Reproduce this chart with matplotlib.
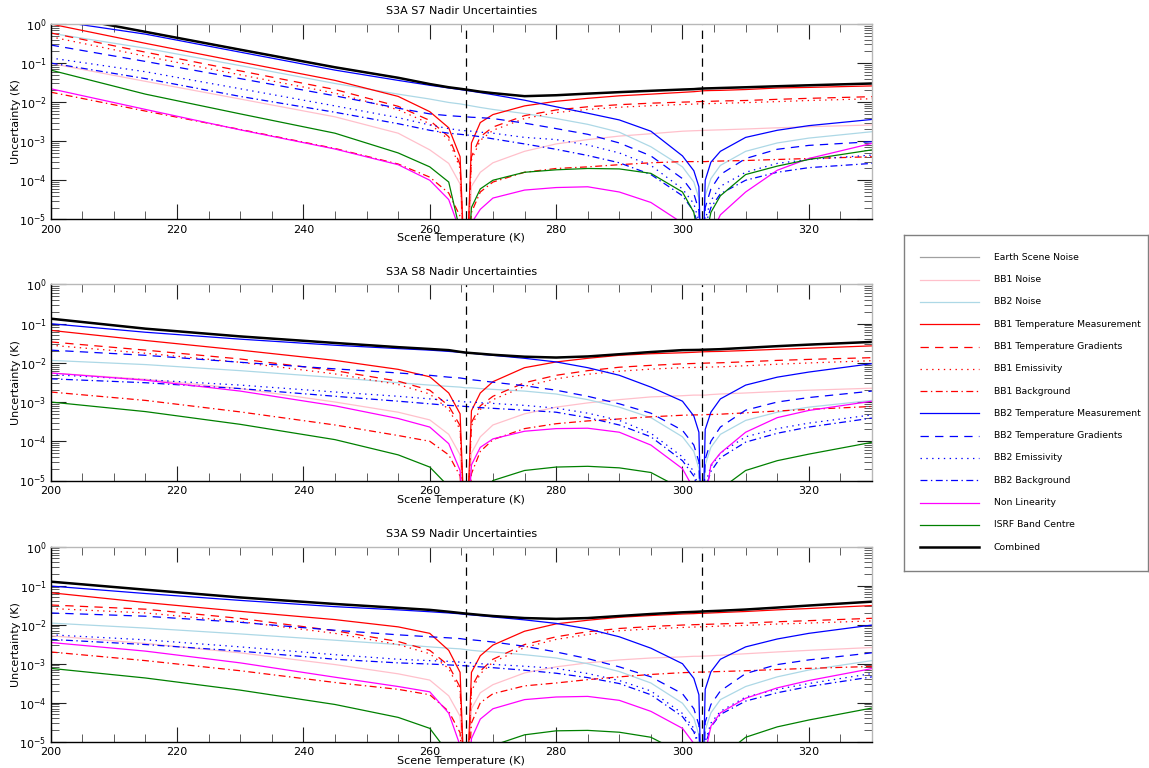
import matplotlib
matplotlib.use("Agg")
import matplotlib.pyplot as plt
from matplotlib.ticker import LogLocator, MultipleLocator, NullFormatter
from matplotlib.lines import Line2D

plt.rcParams['font.family'] = ['DejaVu Sans']
plt.rcParams['lines.scale_dashes'] = False

# ---------------- data ----------------
temps = [200, 215, 230, 245, 255, 260, 263, 264.8, 265.7, 266.6, 268, 270, 275, 280, 285, 290,
         295, 300, 301.8, 302.6, 303.1, 303.6, 304.5, 306, 310, 315, 320, 330]

BB1_TEMP = 265.7
BB2_TEMP = 303.1

labels = ["Earth Scene Noise", "BB1 Noise", "BB2 Noise", "BB1 Temperature Measurement",
          "BB1 Temperature Gradients", "BB1 Emissivity", "BB1 Background",
          "BB2 Temperature Measurement", "BB2 Temperature Gradients", "BB2 Emissivity",
          "BB2 Background", "Non Linearity", "ISRF Band Centre", "Combined"]

titles = ["S3A S7 Nadir Uncertainties", "S3A S8 Nadir Uncertainties", "S3A S9 Nadir Uncertainties"]

# ---- S7 ----
s7_combined = [1.8, 0.63, 0.22, 0.078, 0.042, 0.029, 0.024, 0.022, 0.021, 0.020, 0.0185, 0.017, 0.0142, 0.015,
               0.0165, 0.018, 0.0195, 0.021, 0.0215, 0.022, 0.0222, 0.0224, 0.0226, 0.023, 0.024, 0.0255, 0.027, 0.030]
s7_earth_noise = s7_combined
s7_bb1_noise = [0.098, 0.034, 0.012, 0.0042, 0.0016, 6e-4, 2.7e-4, 8e-5, 1e-7, 7e-5, 1.6e-4, 2.8e-4, 5.5e-4, 8.5e-4,
                1.1e-3, 1.35e-3, 1.55e-3, 1.8e-3, 1.85e-3, 1.87e-3, 1.88e-3, 1.9e-3, 1.92e-3, 1.95e-3, 2.05e-3, 2.2e-3, 2.35e-3, 2.6e-3]
s7_bb2_noise = [0.58, 0.24, 0.086, 0.030, 0.016, 0.012, 0.0098, 0.009, 0.0085, 0.008, 0.0073, 0.0065, 0.0051, 0.0038,
                0.0027, 0.0017, 7.2e-4, 2.2e-4, 9e-5, 3.5e-5, 1e-7, 4e-5, 1.1e-4, 2.4e-4, 5.5e-4, 9e-4, 1.2e-3, 1.75e-3]
s7_bb1_tm = [1.0, 0.32, 0.107, 0.036, 0.014, 0.0057, 0.0022, 4e-4, 1e-7, 9e-4, 3e-3, 4.8e-3, 8e-3, 0.0105,
             0.0125, 0.0145, 0.016, 0.0178, 0.0185, 0.019, 0.0194, 0.0196, 0.0198, 0.020, 0.021, 0.023, 0.0238, 0.026]
s7_bb1_tg = [0.59, 0.19, 0.063, 0.021, 0.0078, 0.0034, 0.0013, 2.5e-4, 1e-7, 4e-4, 1.3e-3, 2.3e-3, 4.5e-3, 6.3e-3,
             7.6e-3, 8.6e-3, 9.4e-3, 0.0100, 0.0102, 0.0103, 0.0104, 0.0104, 0.0105, 0.0107, 0.011, 0.0118, 0.0125, 0.0138]
s7_bb1_em = [0.47, 0.15, 0.05, 0.017, 0.0064, 0.0028, 0.0011, 2e-4, 1e-7, 3.3e-4, 1.05e-3, 1.9e-3, 3.8e-3, 5.4e-3,
             6.5e-3, 7.4e-3, 8.1e-3, 8.7e-3, 8.9e-3, 9e-3, 9e-3, 9.1e-3, 9.2e-3, 9.3e-3, 9.7e-3, 0.0103, 0.011, 0.0122]
s7_bb1_bg = [0.018, 0.0059, 0.002, 6.5e-4, 2.6e-4, 1.2e-4, 4.7e-5, 1.2e-5, 1e-7, 1.5e-5, 5e-5, 9e-5, 1.6e-4, 2e-4,
             2.2e-4, 2.5e-4, 2.8e-4, 3e-4, 3e-4, 3e-4, 3e-4, 3e-4, 3.05e-4, 3.1e-4, 3.2e-4, 3.4e-4, 3.6e-4, 4e-4]
s7_bb2_tm = [1.25, 0.55, 0.19, 0.066, 0.036, 0.027, 0.023, 0.021, 0.020, 0.019, 0.0175, 0.0155, 0.0112, 0.0076,
             0.0052, 0.0035, 0.0018, 4.2e-4, 1.75e-4, 6.8e-5, 1e-7, 1e-4, 2.9e-4, 5.5e-4, 1.25e-3, 1.9e-3, 2.5e-3, 3.6e-3]
s7_bb2_tg = [0.29, 0.11, 0.04, 0.0145, 0.007, 0.005, 0.0045, 0.0043, 0.0042, 0.0041, 0.004, 0.0038, 0.0029, 0.0021,
             0.0015, 9e-4, 4.2e-4, 1.1e-4, 4.5e-5, 1.7e-5, 1e-7, 2e-5, 6e-5, 1.4e-4, 3.6e-4, 6.2e-4, 7.8e-4, 9.7e-4]
s7_bb2_em = [0.135, 0.06, 0.022, 0.008, 0.004, 0.0026, 0.0021, 0.0019, 0.00185, 0.0018, 0.0017, 0.0016, 0.00125, 0.0011,
             8e-4, 5e-4, 2.4e-4, 6e-5, 2.5e-5, 9e-6, 1e-7, 1e-5, 3e-5, 7e-5, 1.6e-4, 2.7e-4, 3.4e-4, 4.4e-4]
s7_bb2_bg = [0.1, 0.04, 0.014, 0.0055, 0.0028, 0.0019, 0.0016, 0.0015, 0.00145, 0.0014, 0.0013, 0.00115, 8.5e-4, 6.2e-4,
             4.3e-4, 2.8e-4, 1.4e-4, 4e-5, 1.6e-5, 6e-6, 1e-7, 7e-6, 2e-5, 4.5e-5, 1e-4, 1.6e-4, 2.1e-4, 2.7e-4]
s7_nonlin = [0.022, 0.0065, 0.00195, 6.3e-4, 2.5e-4, 1e-4, 3.2e-5, 5e-6, 1e-7, 8e-6, 1.8e-5, 3.5e-5, 5.6e-5, 6.5e-5,
             6.8e-5, 5e-5, 2.7e-5, 8e-6, 1e-6, 1e-7, 1e-7, 1e-6, 4e-6, 1.3e-5, 5e-5, 1.8e-4, 3.6e-4, 8.8e-4]
s7_isrf = [0.066, 0.016, 0.005, 0.0016, 5e-4, 2.2e-4, 9e-5, 5e-6, 1e-7, 2e-5, 6e-5, 1.0e-4, 1.6e-4, 1.85e-4,
           2e-4, 1.95e-4, 1.5e-4, 5e-5, 1.5e-5, 3e-6, 1e-7, 3e-6, 1.5e-5, 4e-5, 1.4e-4, 2.3e-4, 3.4e-4, 6e-4]

# ---- S8 ----
s8_combined = [0.133, 0.074, 0.047, 0.032, 0.025, 0.0225, 0.021, 0.019, 0.0182, 0.0177, 0.017, 0.016, 0.0143, 0.0136,
               0.0145, 0.0165, 0.0188, 0.021, 0.0212, 0.0213, 0.0215, 0.0216, 0.0218, 0.0222, 0.024, 0.0265, 0.029, 0.034]
s8_earth_noise = s8_combined
s8_bb1_noise = [0.0055, 0.0038, 0.0022, 1.0e-3, 5.5e-4, 3.5e-4, 1.5e-4, 4.5e-5, 1e-7, 5e-5, 1.3e-4, 2.6e-4, 5e-4, 7.4e-4,
                9.5e-4, 1.15e-3, 1.35e-3, 1.45e-3, 1.5e-3, 1.5e-3, 1.5e-3, 1.5e-3, 1.55e-3, 1.6e-3, 1.7e-3, 1.85e-3, 2e-3, 2.25e-3]
s8_bb2_noise = [0.0115, 0.009, 0.0063, 0.0042, 0.0031, 0.0027, 0.0025, 0.0024, 0.0023, 0.0023, 0.0022, 0.0021, 0.0019, 1.6e-3,
                1.15e-3, 7.4e-4, 4e-4, 1.3e-4, 5.5e-5, 2e-5, 1e-7, 2.5e-5, 7e-5, 1.5e-4, 3.4e-4, 5.5e-4, 7.4e-4, 1.1e-3]
s8_bb1_tm = [0.067, 0.037, 0.021, 0.0115, 0.0068, 0.0044, 0.0017, 5e-4, 1e-7, 6e-4, 1.7e-3, 3.3e-3, 7.5e-3, 0.0105,
             0.013, 0.0155, 0.017, 0.018, 0.0185, 0.0188, 0.019, 0.0191, 0.0193, 0.0195, 0.0205, 0.022, 0.0235, 0.027]
s8_bb1_tg = [0.034, 0.021, 0.0125, 0.0063, 0.0034, 0.002, 8e-4, 2.5e-4, 1e-7, 3e-4, 8e-4, 1.4e-3, 3.1e-3, 4.8e-3,
             6.3e-3, 7.7e-3, 8.6e-3, 9.4e-3, 9.6e-3, 9.7e-3, 9.7e-3, 9.8e-3, 9.9e-3, 0.010, 0.0106, 0.0115, 0.0122, 0.0135]
s8_bb1_em = [0.028, 0.0175, 0.0103, 0.0052, 0.0028, 0.0016, 6.5e-4, 2e-4, 1e-7, 2.5e-4, 6.5e-4, 1.15e-3, 2.5e-3, 3.9e-3,
             5.1e-3, 6.1e-3, 6.9e-3, 7.5e-3, 7.6e-3, 7.65e-3, 7.7e-3, 7.7e-3, 7.8e-3, 7.9e-3, 8.4e-3, 9.2e-3, 9.9e-3, 0.0113]
s8_bb1_bg = [1.8e-3, 1.1e-3, 5.6e-4, 2.6e-4, 1.4e-4, 1e-4, 4.5e-5, 1.3e-5, 1e-7, 1.5e-5, 5.5e-5, 1.1e-4, 2.1e-4, 2.8e-4,
             3.3e-4, 3.7e-4, 4.2e-4, 4.6e-4, 4.7e-4, 4.7e-4, 4.7e-4, 4.8e-4, 4.8e-4, 4.9e-4, 5.3e-4, 5.9e-4, 6.5e-4, 7.7e-4]
s8_bb2_tm = [0.099, 0.06, 0.04, 0.028, 0.023, 0.021, 0.0195, 0.0185, 0.018, 0.0175, 0.0165, 0.0155, 0.013, 0.0105,
             0.0075, 0.0048, 0.0024, 1.05e-3, 4.4e-4, 1.7e-4, 1e-7, 2e-4, 5.5e-4, 1.2e-3, 2.7e-3, 4.3e-3, 5.8e-3, 9.5e-3]
s8_bb2_tg = [0.021, 0.0155, 0.0103, 0.007, 0.0055, 0.0048, 0.0043, 0.0041, 0.0039, 0.0037, 0.0035, 0.0032, 0.0026, 0.002,
             1.4e-3, 9e-4, 5.2e-4, 1.9e-4, 8e-5, 3e-5, 1e-7, 3.5e-5, 1e-4, 2.3e-4, 6.2e-4, 1e-3, 1.3e-3, 1.9e-3]
s8_bb2_em = [0.005, 0.0037, 0.0027, 0.0018, 0.0014, 0.0012, 1.1e-3, 1.05e-3, 1.0e-3, 1.0e-3, 9.6e-4, 9.2e-4, 8.2e-4, 7e-4,
             5.2e-4, 3.4e-4, 1.6e-4, 4e-5, 1.7e-5, 6e-6, 1e-7, 8e-6, 2.3e-5, 5e-5, 1.3e-4, 2.1e-4, 2.9e-4, 4.7e-4]
s8_bb2_bg = [0.0039, 0.0031, 0.0022, 0.0014, 1.05e-3, 9e-4, 8.2e-4, 7.9e-4, 7.7e-4, 7.5e-4, 7.2e-4, 6.9e-4, 6.2e-4, 5.5e-4,
             4e-4, 2.6e-4, 1.3e-4, 3.2e-5, 1.3e-5, 5e-6, 1e-7, 6e-6, 1.7e-5, 3.8e-5, 9.5e-5, 1.6e-4, 2.3e-4, 3.9e-4]
s8_nonlin = [0.0055, 0.0036, 0.0019, 8e-4, 3.8e-4, 2.3e-4, 8.7e-5, 1.8e-5, 1e-7, 2.5e-5, 7e-5, 1.15e-4, 1.8e-4, 2.1e-4,
             2.15e-4, 1.7e-4, 8e-5, 2e-5, 6e-6, 1e-6, 1e-7, 3e-6, 2.5e-5, 5e-5, 1.7e-4, 4e-4, 6.1e-4, 1.05e-3]
s8_isrf = [1.0e-3, 5.7e-4, 2.7e-4, 1.1e-4, 4.5e-5, 2.2e-5, 7e-6, 1e-6, 1e-7, 1e-6, 4e-6, 1e-5, 1.8e-5, 2.2e-5,
           2.3e-5, 2.1e-5, 1.6e-5, 6e-6, 2e-6, 5e-7, 1e-7, 5e-7, 2e-6, 6e-6, 1.8e-5, 3.2e-5, 4.7e-5, 9.4e-5]

# ---- S9 ----
s9_combined = [0.127, 0.079, 0.05, 0.034, 0.027, 0.024, 0.0215, 0.0200, 0.0193, 0.0187, 0.0178, 0.0167, 0.0148, 0.0141,
               0.0148, 0.0167, 0.0188, 0.0208, 0.0213, 0.0216, 0.0218, 0.022, 0.0223, 0.0228, 0.0245, 0.0275, 0.031, 0.039]
s9_earth_noise = s9_combined
s9_bb1_noise = [0.0052, 0.0033, 0.0019, 9.5e-4, 5.5e-4, 3.8e-4, 1.5e-4, 4.5e-5, 1e-7, 7e-5, 1.8e-4, 2.9e-4, 5.8e-4, 8.3e-4,
                1.05e-3, 1.25e-3, 1.4e-3, 1.5e-3, 1.55e-3, 1.55e-3, 1.56e-3, 1.57e-3, 1.6e-3, 1.65e-3, 1.8e-3, 2e-3, 2.2e-3, 2.6e-3]
s9_bb2_noise = [0.011, 0.0082, 0.0058, 0.0040, 0.0031, 0.0027, 0.0025, 0.0024, 0.0023, 0.0022, 0.0021, 0.002, 0.0017, 1.4e-3,
                1e-3, 6.3e-4, 3.2e-4, 9.7e-5, 4e-5, 1.5e-5, 1e-7, 2e-5, 5.5e-5, 1.2e-4, 2.6e-4, 4.6e-4, 6.9e-4, 1.2e-3]
s9_bb1_tm = [0.066, 0.037, 0.022, 0.0135, 0.0088, 0.006, 0.0022, 6e-4, 1e-7, 6e-4, 1.6e-3, 3e-3, 6.8e-3, 0.0105,
             0.013, 0.0155, 0.0172, 0.0188, 0.0192, 0.0195, 0.0196, 0.0197, 0.02, 0.0205, 0.0218, 0.024, 0.026, 0.031]
s9_bb1_tg = [0.032, 0.025, 0.0145, 0.007, 0.0037, 0.0022, 9e-4, 2.5e-4, 1e-7, 2.5e-4, 6.5e-4, 1.3e-3, 3.1e-3, 4.9e-3,
             6.6e-3, 8e-3, 9e-3, 9.8e-3, 0.0100, 0.0101, 0.0101, 0.0102, 0.0103, 0.0105, 0.011, 0.0119, 0.0127, 0.0146]
s9_bb1_em = [0.026, 0.02, 0.012, 0.006, 0.0031, 0.0018, 7.5e-4, 2e-4, 1e-7, 2e-4, 5.5e-4, 1.1e-3, 2.6e-3, 4.2e-3,
             5.6e-3, 7e-3, 7.8e-3, 8.5e-3, 8.7e-3, 8.8e-3, 8.8e-3, 8.9e-3, 9e-3, 9.2e-3, 9.6e-3, 0.0104, 0.011, 0.0125]
s9_bb1_bg = [2e-3, 1.2e-3, 6.6e-4, 3.3e-4, 2.2e-4, 1.6e-4, 6e-5, 1.7e-5, 1e-7, 3e-5, 1e-4, 1.7e-4, 2.7e-4, 3.2e-4,
             3.9e-4, 4.6e-4, 5.3e-4, 5.9e-4, 6e-4, 6.1e-4, 6.1e-4, 6.1e-4, 6.2e-4, 6.3e-4, 6.6e-4, 7.1e-4, 7.6e-4, 8.5e-4]
s9_bb2_tm = [0.098, 0.063, 0.042, 0.029, 0.024, 0.0215, 0.020, 0.019, 0.0183, 0.0178, 0.017, 0.0158, 0.0133, 0.0108,
             0.0078, 0.0049, 0.0025, 1.0e-3, 4.2e-4, 1.6e-4, 1e-7, 2.2e-4, 6.2e-4, 1.3e-3, 2.7e-3, 4.3e-3, 6e-3, 9.8e-3]
s9_bb2_tg = [0.020, 0.0165, 0.0115, 0.0072, 0.0055, 0.0049, 0.0046, 0.0044, 0.0042, 0.0041, 0.0039, 0.0036, 0.0028, 0.002,
             1.35e-3, 8.3e-4, 4.6e-4, 1.7e-4, 7e-5, 2.7e-5, 1e-7, 3.2e-5, 9e-5, 2e-4, 5.6e-4, 9.5e-4, 1.25e-3, 1.9e-3]
s9_bb2_em = [0.0055, 0.0041, 0.0027, 0.0017, 0.0013, 1.2e-3, 1.15e-3, 1.1e-3, 1.08e-3, 1.05e-3, 1.0e-3, 9.6e-4, 8.6e-4, 7.6e-4,
             5.6e-4, 3.7e-4, 2e-4, 5.3e-5, 2.2e-5, 8e-6, 1e-7, 1e-5, 3e-5, 6e-5, 1.4e-4, 2.2e-4, 3.1e-4, 5.6e-4]
s9_bb2_bg = [0.0042, 0.0031, 0.0021, 0.0013, 1.05e-3, 9.8e-4, 9.3e-4, 9e-4, 8.8e-4, 8.6e-4, 8.3e-4, 7.9e-4, 6.8e-4, 5.7e-4,
             4.4e-4, 3.1e-4, 1.6e-4, 4.4e-5, 1.8e-5, 7e-6, 1e-7, 8e-6, 2.4e-5, 5e-5, 1.1e-4, 1.8e-4, 2.6e-4, 4.6e-4]
s9_nonlin = [0.0035, 0.0021, 1.05e-3, 4.5e-4, 2.6e-4, 1.9e-4, 5.4e-5, 8e-6, 1e-7, 1.2e-5, 3.8e-5, 7e-5, 1.2e-4, 1.4e-4,
             1.45e-4, 1.15e-4, 6e-5, 2.2e-5, 9e-6, 3e-6, 1e-7, 5e-6, 2.5e-5, 5.5e-5, 1.3e-4, 2.4e-4, 3.7e-4, 7.5e-4]
s9_isrf = [7.6e-4, 4.3e-4, 2.1e-4, 9e-5, 4.2e-5, 2.2e-5, 5e-6, 1e-6, 1e-7, 1e-6, 3e-6, 8e-6, 1.5e-5, 1.9e-5,
           1.95e-5, 1.75e-5, 1.3e-5, 5e-6, 2e-6, 5e-7, 1e-7, 5e-7, 1.5e-6, 4e-6, 1.3e-5, 2.4e-5, 3.6e-5, 7.3e-5]

panels = [
    [s7_earth_noise, s7_bb1_noise, s7_bb2_noise, s7_bb1_tm, s7_bb1_tg, s7_bb1_em, s7_bb1_bg,
     s7_bb2_tm, s7_bb2_tg, s7_bb2_em, s7_bb2_bg, s7_nonlin, s7_isrf, s7_combined],
    [s8_earth_noise, s8_bb1_noise, s8_bb2_noise, s8_bb1_tm, s8_bb1_tg, s8_bb1_em, s8_bb1_bg,
     s8_bb2_tm, s8_bb2_tg, s8_bb2_em, s8_bb2_bg, s8_nonlin, s8_isrf, s8_combined],
    [s9_earth_noise, s9_bb1_noise, s9_bb2_noise, s9_bb1_tm, s9_bb1_tg, s9_bb1_em, s9_bb1_bg,
     s9_bb2_tm, s9_bb2_tg, s9_bb2_em, s9_bb2_bg, s9_nonlin, s9_isrf, s9_combined],
]

# ---------------- styles ----------------
SOLID = None
DASHED = (6, 4.5)
DOTTED = (1.0, 3.2)
DASHDOT = (5, 2.5, 1, 2.5)
styles = [
    ("#a0a0a0", SOLID, 0.9),   # Earth Scene Noise
    ("#ffc0cb", SOLID, 0.9),   # BB1 Noise
    ("#add8e6", SOLID, 0.9),   # BB2 Noise
    ("#ff0000", SOLID, 0.9),   # BB1 Temp Meas
    ("#ff0000", DASHED, 0.9),
    ("#ff0000", DOTTED, 0.9),
    ("#ff0000", DASHDOT, 0.9),
    ("#0000ff", SOLID, 0.9),
    ("#0000ff", DASHED, 0.9),
    ("#0000ff", DOTTED, 0.9),
    ("#0000ff", DASHDOT, 0.9),
    ("#ff00ff", SOLID, 0.9),
    ("#008000", SOLID, 0.9),
    ("#000000", SOLID, 1.8),
]


def make_line_kwargs(style):
    color, dashes, lw = style
    kw = dict(color=color, lw=lw)
    if dashes is not None:
        kw["dashes"] = dashes
    return kw


W, H = 1149, 768
fig = plt.figure(figsize=(W / 100, H / 100), dpi=100)

ax_left = 50.7
ax_right = 872.0
panel_px = [(24.0, 219.3), (284.3, 480.5), (546.7, 741.7)]

for p, (top, bottom) in enumerate(panel_px):
    ax = fig.add_axes([ax_left / W, 1 - bottom / H, (ax_right - ax_left) / W, (bottom - top) / H])
    for series, style in zip(panels[p], styles):
        ax.plot(temps, series, **make_line_kwargs(style))
    ax.axvline(BB1_TEMP, color="black", lw=0.9, dashes=(6, 4))
    ax.axvline(BB2_TEMP, color="black", lw=0.9, dashes=(6, 4))
    ax.set_yscale("log")
    ax.set_xlim(200, 330)
    ax.set_ylim(1e-5, 1e0)
    ax.xaxis.set_major_locator(MultipleLocator(20))
    ax.xaxis.set_minor_locator(MultipleLocator(5))
    ax.yaxis.set_major_locator(LogLocator(base=10, numticks=10))
    ax.yaxis.set_minor_locator(LogLocator(base=10, subs=range(2, 10), numticks=20))
    ax.yaxis.set_minor_formatter(NullFormatter())
    ax.tick_params(which="major", direction="in", length=11, width=0.8, top=True, right=True,
                   labelsize=8, pad=4, colors="#222222", labelcolor="black")
    ax.tick_params(axis="y", which="major", pad=3)
    ax.tick_params(which="minor", direction="in", length=5.5, width=0.6, top=True, right=True,
                   colors="#444444")
    for side in ("left", "bottom"):
        ax.spines[side].set_color("black")
        ax.spines[side].set_linewidth(1.0)
    for side in ("top", "right"):
        ax.spines[side].set_color("#b8b8b8")
        ax.spines[side].set_linewidth(1.0)
    ax.set_title(titles[p], fontsize=8, pad=7)
    ax.set_xlabel("Scene Temperature (K)", fontsize=8, labelpad=-1)
    ax.set_ylabel("Uncertainty (K)", fontsize=8, labelpad=-1)

# ---------------- legend (drawn in its own box) ----------------
lx0, lx1, ly0, ly1 = 904, 1148, 235, 571
lax = fig.add_axes([lx0 / W, 1 - ly1 / H, (lx1 - lx0) / W, (ly1 - ly0) / H])
lax.set_xlim(lx0, lx1)
lax.set_ylim(ly1, ly0)
lax.set_xticks([])
lax.set_yticks([])
for s in lax.spines.values():
    s.set_color("#808080")
    s.set_linewidth(1.0)
row0, step = 257.3, 22.3
for i, (lab, style) in enumerate(zip(labels, styles)):
    y = row0 + i * step
    lax.add_line(Line2D([920, 979], [y, y], **make_line_kwargs(style)))
    lax.text(994, y, lab, fontsize=6.7, va="center", ha="left")

fig.savefig("out.png", dpi=100)
